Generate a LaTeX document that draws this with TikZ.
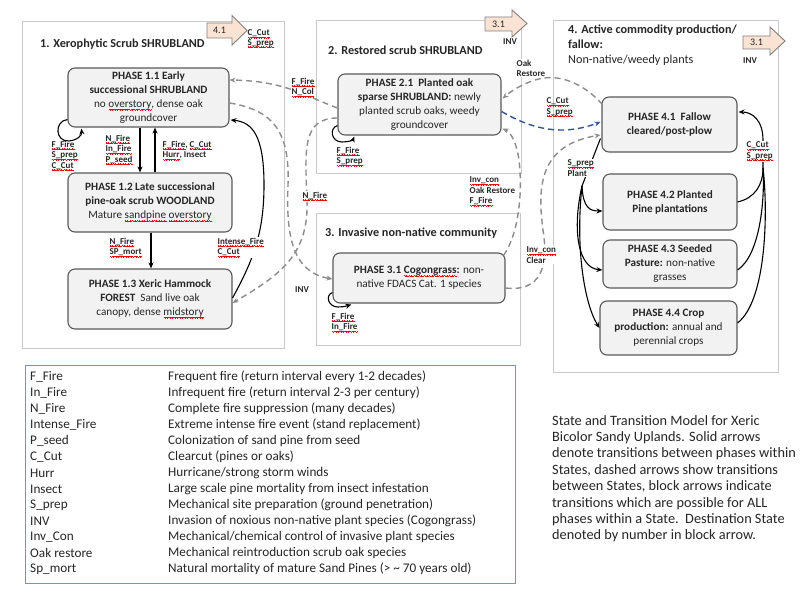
\documentclass[tikz,border=0pt]{standalone}
\usepackage{fontspec}
\setmainfont{Carlito}
\usetikzlibrary{arrows.meta,calc}
\definecolor{dgray}{HTML}{595959}
\definecolor{lgray}{HTML}{C9C9C9}
\definecolor{dashgray}{HTML}{8C8C8C}
\definecolor{phasefill}{HTML}{F2F2F2}
\definecolor{peach}{HTML}{FBE3D3}
\definecolor{navy}{HTML}{2F5597}
\definecolor{legbord}{HTML}{7A93B5}
\definecolor{txt}{HTML}{262626}
\newsavebox\splbox
\newcommand\wavebit{\rule[-2.0pt]{0.6pt}{0.6pt}\rule[-2.5pt]{0.6pt}{0.6pt}\rule[-3.0pt]{0.6pt}{0.6pt}\rule[-2.5pt]{0.6pt}{0.6pt}}
\newcommand\spl[1]{\sbox\splbox{#1}\rlap{\textcolor{red}{\hbox to\wd\splbox{\xleaders\hbox{\wavebit}\hfill}}}\usebox\splbox}
\tikzset{
 phase/.style={draw=dgray, fill=phasefill, rounded corners=7pt, line width=1.1pt, align=center,
   font=\fontsize{11.2}{14}\selectfont, text=txt, inner sep=1pt},
 statebox/.style={draw=lgray, line width=0.8pt},
 stitle/.style={font=\fontsize{12.2}{15}\selectfont\bfseries, anchor=west, text=txt, inner sep=0pt},
 lab/.style={font=\fontsize{9}{10.5}\selectfont\bfseries, align=left, text=txt, inner sep=0.5pt, anchor=north west},
 wlab/.style={lab, fill=white},
 solidarr/.style={draw=black, line width=1.1pt, -{Stealth[length=6pt,width=5pt]}},
 solidln/.style={draw=black, line width=1.1pt},
 dasharr/.style={draw=dashgray, line width=1.4pt, dash pattern=on 6pt off 4pt, -{Stealth[length=6pt,width=5pt]}},
 blockarr/.style={draw=gray, fill=peach, line width=0.9pt},
 blocktxt/.style={font=\fontsize{10}{11}\selectfont, text=txt, inner sep=0pt},
 legtxt/.style={font=\fontsize{13.2}{16}\selectfont, anchor=west, text=txt, inner sep=0pt},
}
\begin{document}
\begin{tikzpicture}[x=1pt,y=-1pt]
\useasboundingbox (0,0) rectangle (800,609);
\fill[white] (0,0) rectangle (800,609);

% state boxes
\draw[statebox] (22,21) rectangle (284,348);
\draw[statebox] (316,20) rectangle (521,173);
\draw[statebox] (316,213) rectangle (520,345);
\draw[statebox] (553,20) rectangle (778,372);

% titles
\node[stitle] (t1) at (40,44) {1. Xerophytic Scrub SHRUBLAND};
\node[stitle] (t2) at (328,50) {2. Restored scrub SHRUBLAND};
\node[stitle] (t3) at (325,233) {3. Invasive non-native community};
\node[stitle, anchor=north west, align=left] (t4) at (568,25) {4. Active commodity production/\\fallow:\\{\mdseries Non-native/weedy plants}};

% block arrows
\draw[blockarr] (207,23) -- (232,23) -- (232,15.5) -- (247,30.5) -- (232,45) -- (232,38) -- (207,38) -- cycle;
\node[blocktxt] (b1) at (219.5,30.5) {4.1};
\draw[blockarr] (485,17) -- (512,17) -- (512,10) -- (527,23.5) -- (512,37) -- (512,31) -- (485,31) -- cycle;
\node[blocktxt] (b2) at (498.5,24) {3.1};
\draw[blockarr] (743,36) -- (770,36) -- (770,27) -- (785,41) -- (770,55) -- (770,49) -- (743,49) -- cycle;
\node[blocktxt] (b3) at (756.5,42.5) {3.1};

% phases
\node[phase, minimum width=161, minimum height=59] (p11) at (148.5,97.5)
 {\textbf{PHASE 1.1 Early}\\\textbf{successional SHRUBLAND}\\no \spl{overstory}, dense oak\\groundcover};
\node[phase, minimum width=164, minimum height=59] (p12) at (150,202.5)
 {\textbf{PHASE 1.2 Late successional}\\\textbf{pine-oak scrub WOODLAND}\\Mature \spl{sandpine} \spl{overstory}};
\node[phase, minimum width=164, minimum height=60] (p13) at (150,299)
 {\textbf{PHASE 1.3 Xeric Hammock}\\\textbf{FOREST}\ \ Sand live oak\\canopy, dense \spl{midstory}};
\node[phase, minimum width=163, minimum height=61] (p21) at (419.5,104.5)
 {\textbf{PHASE 2.1\ \ Planted oak}\\\textbf{sparse SHRUBLAND:} newly\\planted scrub oaks, weedy\\groundcover};
\node[phase, minimum width=172, minimum height=50] (p31) at (419,278)
 {\textbf{PHASE 3.1 \spl{Cogongrass}:} non-\\native FDACS Cat. 1 species};
\node[phase, minimum width=135, minimum height=55] (p41) at (669.5,124.5)
 {\textbf{PHASE 4.1\ \ Fallow}\\\textbf{cleared/post-plow}};
\node[phase, minimum width=134, minimum height=56] (p42) at (670,202)
 {\textbf{PHASE 4.2 Planted}\\\textbf{Pine plantations}};
\node[phase, minimum width=134, minimum height=48] (p43) at (670,264)
 {\textbf{PHASE 4.3 Seeded}\\\textbf{Pasture:} non-native\\grasses};
\node[phase, minimum width=137, minimum height=54] (p44) at (668.5,328)
 {\textbf{PHASE 4.4 Crop}\\\textbf{production:} annual and\\perennial crops};

% solid arrows within state 1
\coordinate (c140) at (140,0);
\coordinate (c155) at (155,0);
\coordinate (c151) at (151,0);
\draw[solidarr] (p11.south -| c140) -- (p12.north -| c140);
\draw[solidarr] (p12.north -| c155) -- (p11.south -| c155);
\draw[solidarr] (p12.south -| c151) -- (p13.north -| c151);
\draw[solidarr] ($(p13.east)+(0,-1)$) .. controls (252,262) and (264,235) .. (264,185)
  .. controls (264,135) and (252,122) .. ($(p11.east)+(1,22.5)$);

% self loops
\draw[solidarr] ($(p11.south west)+(0,-8)$) .. controls (54,121) and (55,142) .. (69,141)
  .. controls (78,140) and (82,135) .. ($(p11.south west)+(14,1)$);
\draw[solidarr] ($(p21.south west)+(0,-10)$) .. controls (329,128) and (331,142) .. (342,142)
  .. controls (349,142) and (353,140) .. ($(p21.south west)+(17,1)$);
\draw[solidarr] ($(p31.south west)+(0,-11)$) .. controls (325,295) and (328,307) .. (338,307)
  .. controls (345,307) and (350,305) .. ($(p31.south west)+(19,1)$);

% dashed transitions between states
\draw[dasharr] ($(p21.west)+(0,3.5)$) .. controls (305,96) and (285,81) .. ($(p11.east)+(0,-17.5)$);
\draw[dasharr] ($(p11.east)+(0,5.5)$) .. controls (272,110) and (290,130) .. (288,185)
  .. controls (286,235) and (292,272) .. ($(p31.west)+(0,1)$);
\draw[dasharr] ($(p21.west)+(0,13.5)$) .. controls (302,118) and (305,150) .. (307,200)
  .. controls (309,255) and (280,275) .. ($(p13.east)+(0,4)$);
\draw[dasharr] ($(p31.north east)+(-2,3)$) .. controls (518,235) and (523,195) .. (519,160)
  .. controls (516,140) and (510,132) .. ($(p21.south east)+(1,-7)$);
\draw[dasharr] ($(p41.north west)+(1,8)$) .. controls (585,85) and (560,72) .. (535,80)
  .. controls (520,85) and (510,92) .. ($(p21.east)+(1,-6)$);
\draw[dasharr, draw=navy] ($(p21.east)+(0,7)$) .. controls (530,128) and (560,137) .. ($(p41.west)+(-1,-2.5)$);
\draw[dasharr] ($(p31.east)+(0,10)$) .. controls (540,292) and (549,268) .. (543,230)
  .. controls (537,185) and (540,145) .. ($(p41.west)+(-1,10.5)$);

% state 4 solid arrows
\coordinate (j4) at (582,186);
\coordinate (k4) at (763,168);
\draw[solidln] ($(p41.south west)+(-1,-14)$) -- (j4);
\draw[solidarr] (j4) .. controls (583,208) and (590,211) .. ($(p42.west)+(0,9)$);
\draw[solidarr] (j4) .. controls (572,230) and (578,268) .. ($(p43.west)+(0,6)$);
\draw[solidarr] (j4) .. controls (575,250) and (585,305) .. (p44.west);
\draw[solidln] (p42.east) .. controls (755,198) and (763,185) .. (k4);
\draw[solidln] ($(p43.east)+(0,6)$) .. controls (760,255) and (765,200) .. (k4);
\draw[solidln] ($(p44.east)+(0,-5)$) .. controls (767,300) and (768,210) .. (k4);
\draw[solidarr] (k4) -- (763,140) .. controls (763,120) and (752,112) .. ($(p41.east)+(1,-12.5)$);

% labels
\node[lab] (l1) at (51,140) {\spl{F\_Fire}\\\spl{S\_prep}\\\spl{C\_Cut}};
\node[lab] (l2) at (105,134) {\spl{N\_Fire}\\\spl{In\_Fire}\\\spl{P\_seed}};
\node[lab] (l3) at (162,140) {\spl{F\_Fire}, \spl{C\_Cut}\\\spl{Hurr}, Insect};
\node[lab] (l4) at (109,237) {\spl{N\_Fire}\\\spl{SP\_mort}};
\node[wlab] (l5) at (217,237) {\spl{Intense\_Fire}\\\spl{C\_Cut}};
\node[wlab] (l6) at (291,77) {\spl{F\_Fire}\\\spl{N\_Col}};
\node[lab] (l7) at (336,146) {\spl{F\_Fire}\\\spl{S\_prep}};
\node[wlab] (l8) at (302,191) {\spl{N\_Fire}};
\node[lab, anchor=center] (l9) at (302,290) {INV};
\node[lab] (l10) at (469,176) {\spl{Inv\_con}\\Oak Restore\\\spl{F\_Fire}};
\node[lab] (l11) at (331,312) {\spl{F\_Fire}\\\spl{In\_Fire}};
\node[wlab] (l12) at (516,59) {Oak\\Restore};
\node[lab] (l13) at (546,97) {\spl{C\_Cut}\\\spl{S\_prep}};
\node[wlab] (l14) at (526,246) {\spl{Inv\_con}\\Clear};
\node[wlab] (l15) at (567,159) {\spl{S\_prep}\\Plant};
\node[wlab] (l16) at (746,141) {\spl{C\_Cut}\\\spl{S\_prep}};
\node[lab, font=\fontsize{9}{9.5}\selectfont\bfseries] (l17) at (247,29) {\spl{C\_Cut}\\\spl{S\_prep}};
\node[lab, anchor=center] (l18) at (510,42) {INV};
\node[lab, anchor=center] (l19) at (750,61) {INV};

% legend
\draw[legbord, line width=1pt] (25,365) rectangle (515,583);
\foreach \t/\d [count=\i from 0] in {
 {F\_Fire}/{Frequent fire (return interval every 1-2 decades)},
 {In\_Fire}/{Infrequent fire (return interval 2-3 per century)},
 {N\_Fire}/{Complete fire suppression (many decades)},
 {Intense\_Fire}/{Extreme intense fire event (stand replacement)},
 {P\_seed}/{Colonization of sand pine from seed},
 {C\_Cut}/{Clearcut (pines or oaks)},
 {Hurr}/{Hurricane/strong storm winds},
 {Insect}/{Large scale pine mortality from insect infestation},
 {S\_prep}/{Mechanical site preparation (ground penetration)},
 {INV}/{Invasion of noxious non-native plant species (Cogongrass)},
 {Inv\_Con}/{Mechanical/chemical control of invasive plant species},
 {Oak restore}/{Mechanical reintroduction scrub oak species},
 {Sp\_mort}/{Natural mortality of mature Sand Pines (> \textasciitilde{} 70 years old)}}
{
 \node[legtxt] (lt\i) at (30,{377+16*\i}) {\t};
 \node[legtxt] (ld\i) at (168,{377+16*\i}) {\d};
}

% caption
\node[anchor=north west, align=left, font=\fontsize{14.3}{16.4}\selectfont, text=txt, inner sep=0pt] (cap) at (552,415)
 {State and Transition Model for Xeric\\Bicolor Sandy Uplands. Solid arrows\\denote transitions between phases within\\States, dashed arrows show transitions\\between States, block arrows indicate\\transitions which are possible for ALL\\phases within a State.\ \ Destination State\\denoted by number in block arrow.};
\end{tikzpicture}
\end{document}
